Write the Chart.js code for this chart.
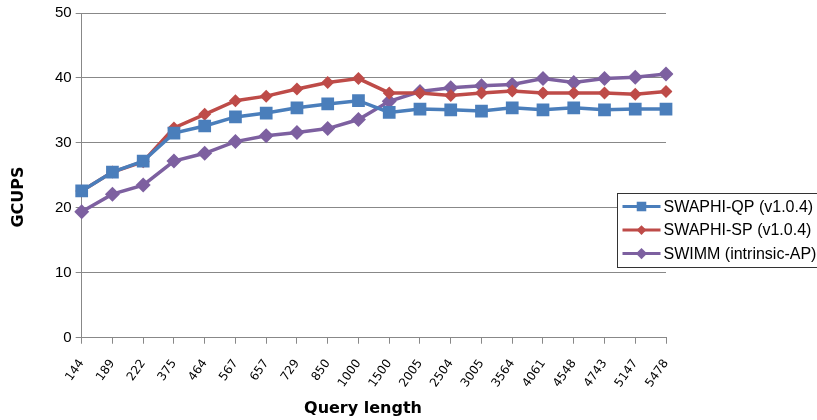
<!DOCTYPE html>
<html>
<head>
<meta charset="utf-8">
<script src="https://cdn.jsdelivr.net/npm/chart.js@4/dist/chart.umd.min.js"></script>
<style>
  html, body { margin: 0; padding: 0; background: #fff; }
  #wrap { width: 817px; height: 420px; }
</style>
</head>
<body>
<div id="wrap"><canvas id="c" width="817" height="420"></canvas></div>
<script>
const queryLengths = ["144", "189", "222", "375", "464", "567", "657", "729", "850", "1000",
	"1500", "2005", "2504", "3005", "3564", "4061", "4548", "4743", "5147", "5478"];

const swaphiQP = [22.6, 25.5, 27.2, 31.5, 32.6, 34.0, 34.6, 35.4, 36.0, 36.5,
	34.7, 35.2, 35.1, 34.9, 35.4, 35.1, 35.4, 35.1, 35.2, 35.2];

const swaphiSP = [22.6, 25.5, 27.1, 32.3, 34.4, 36.5, 37.2, 38.3, 39.3, 39.9,
	37.7, 37.7, 37.3, 37.7, 38.0, 37.7, 37.7, 37.7, 37.5, 37.9];

const swimm = [19.4, 22.1, 23.5, 27.2, 28.4, 30.2, 31.1, 31.6, 32.2, 33.6,
	36.4, 37.9, 38.5, 38.8, 39.0, 39.9, 39.3, 39.9, 40.1, 40.6];

const seriesNames = ["SWAPHI-QP (v1.0.4)", "SWAPHI-SP (v1.0.4)", "SWIMM (intrinsic-AP)"];
const xTitle = "Query length";
const yTitle = "GCUPS";

// axis titles and boxed legend placed like the original spreadsheet chart
const overlay = {
	id: "overlay",
	afterDraw(chart) {
		const ctx = chart.ctx;
		ctx.save();
		ctx.fillStyle = "#000";
		ctx.font = "bold 16px 'DejaVu Sans', sans-serif";
		ctx.textAlign = "center";
		ctx.textBaseline = "middle";
		ctx.fillText(xTitle, 363, 409);
		ctx.save();
		ctx.translate(19, 197);
		ctx.rotate(-Math.PI / 2);
		ctx.fillText(yTitle, 0, 0);
		ctx.restore();

		const x = 617.5, y = 193.5, w = 220, h = 74;
		ctx.fillStyle = "#fff";
		ctx.fillRect(x, y, w, h);
		ctx.strokeStyle = "#333";
		ctx.lineWidth = 1;
		ctx.strokeRect(x, y, w, h);
		ctx.font = "16px 'Liberation Sans', Arial, sans-serif";
		ctx.textAlign = "left";
		chart.data.datasets.forEach((ds, i) => {
			const ry = y + 13 + i * 23.5;
			ctx.strokeStyle = ds.borderColor;
			ctx.lineWidth = 3;
			ctx.beginPath();
			ctx.moveTo(x + 5, ry);
			ctx.lineTo(x + 43, ry);
			ctx.stroke();
			ctx.fillStyle = ds.borderColor;
			Chart.helpers.drawPoint(ctx, {
				pointStyle: ds.pointStyle,
				radius: ds.pointRadius * 0.75,
				borderWidth: 0
			}, x + 24, ry);
			ctx.fillStyle = "#000";
			ctx.fillText(ds.label, x + 46, ry + 1);
		});
		ctx.restore();
	}
};

const chart = new Chart(document.getElementById("c"), {
	type: "line",
	data: {
		labels: queryLengths,
		datasets: [
			{
				label: seriesNames[0],
				data: swaphiQP,
				borderColor: "#4a7ebb",
				backgroundColor: "#4a7ebb",
				borderWidth: 3.5,
				pointStyle: "rect",
				pointRadius: 9,
				pointBorderWidth: 0,
				tension: 0
			},
			{
				label: seriesNames[1],
				data: swaphiSP,
				borderColor: "#be4b48",
				backgroundColor: "#be4b48",
				borderWidth: 3.5,
				pointStyle: "rectRot",
				pointRadius: 6.5,
				pointBorderWidth: 0,
				tension: 0
			},
			{
				label: seriesNames[2],
				data: swimm,
				borderColor: "#7d60a0",
				backgroundColor: "#7d60a0",
				borderWidth: 3.5,
				pointStyle: "rectRot",
				pointRadius: 7.5,
				pointBorderWidth: 0,
				tension: 0
			}
		]
	},
	options: {
		responsive: false,
		animation: false,
		layout: { padding: { top: 9, right: 151, bottom: 17, left: 51 } },
		plugins: {
			legend: { display: false },
			tooltip: { enabled: false }
		},
		scales: {
			x: {
				offset: false,
				grid: {
					drawOnChartArea: false,
					drawTicks: true,
					tickLength: 6,
					color: "#888"
				},
				border: { color: "#888", width: 1 },
				ticks: {
					autoSkip: false,
					minRotation: 55,
					maxRotation: 55,
					padding: 13,
					color: "#000",
					font: { family: "'DejaVu Sans', sans-serif", size: 12 }
				}
			},
			y: {
				min: 0,
				max: 50,
				ticks: {
					stepSize: 10,
					color: "#000",
					padding: 4,
					font: { family: "'Liberation Sans', Arial, sans-serif", size: 15 }
				},
				grid: { color: "#888", tickLength: 6 },
				border: { color: "#888", width: 1 }
			}
		}
	},
	plugins: [overlay]
});
</script>
</body>
</html>
